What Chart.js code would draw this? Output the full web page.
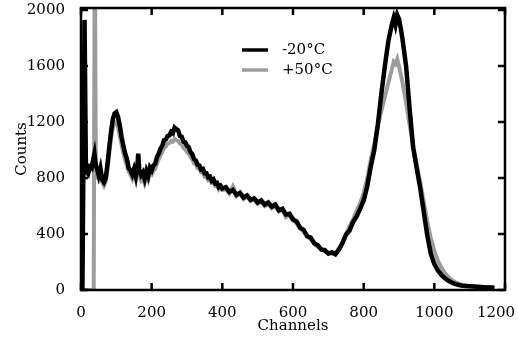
<!DOCTYPE html>
<html>
<head>
<meta charset="utf-8">
<script src="https://cdn.jsdelivr.net/npm/chart.js@4.4.1/dist/chart.umd.min.js"></script>
<style>
    html, body { margin: 0; padding: 0; background: #fff; }
    #wrap { width: 518px; height: 337px; }
</style>
</head>
<body>
<div id="wrap"><canvas id="spectrumChart" width="518" height="337"></canvas></div>
<script>
// Spectrum at -20°C (black)
const coldChannels = [0, 4, 10, 14, 20, 25, 30, 35, 38, 42, 46, 50, 55, 60, 65, 70, 75, 80, 85, 90,
    95, 100, 105, 110, 115, 120, 125, 130, 135, 140, 145, 150, 155, 160, 162, 165, 170, 175, 180, 185,
    190, 195, 200, 205, 210, 215, 220, 225, 230, 235, 240, 245, 250, 255, 260, 265, 270, 275, 280, 285,
    290, 295, 300, 305, 310, 315, 320, 325, 330, 335, 340, 345, 350, 355, 360, 365, 370, 375, 380, 385,
    390, 395, 400, 410, 420, 430, 440, 450, 460, 470, 480, 490, 500, 510, 520, 530, 540, 550, 560, 570,
    580, 590, 600, 610, 620, 630, 640, 650, 660, 670, 680, 690, 700, 710, 720, 730, 740, 750, 760, 770,
    780, 790, 800, 810, 820, 830, 840, 850, 860, 870, 880, 885, 890, 895, 900, 905, 910, 920, 930, 940,
    950, 960, 970, 980, 990, 1000, 1010, 1020, 1030, 1040, 1050, 1060, 1070, 1080, 1090, 1100, 1120, 1140, 1160, 1170];
const coldCounts = [0, 0, 1930, 850, 830, 880, 870, 940, 975, 890, 860, 820, 870, 790, 770, 800, 900, 1020, 1130, 1220,
    1260, 1270, 1235, 1170, 1090, 1030, 975, 935, 870, 855, 825, 865, 815, 900, 975, 855, 820, 840, 795, 850,
    815, 875, 855, 890, 900, 950, 975, 1010, 1030, 1070, 1075, 1100, 1105, 1130, 1120, 1160, 1150, 1140, 1100, 1095,
    1060, 1055, 1030, 1020, 985, 970, 935, 925, 895, 890, 860, 865, 835, 835, 805, 810, 780, 790, 760, 765,
    735, 745, 725, 735, 700, 715, 680, 695, 660, 675, 645, 655, 625, 640, 610, 625, 595, 610, 570, 580,
    540, 545, 505, 490, 445, 430, 385, 375, 335, 320, 290, 285, 260, 270, 255, 290, 335, 395, 425, 485,
    525, 580, 640, 740, 880, 1000, 1180, 1400, 1600, 1780, 1900, 1945, 1895, 1965, 1935, 1870, 1790, 1600, 1300, 1020,
    870, 730, 560, 390, 260, 185, 140, 108, 84, 66, 52, 42, 36, 31, 28, 26, 23, 20, 18, 16];

// Spectrum at +50°C (grey)
const hotChannels = [0, 36, 39, 42, 46, 50, 55, 60, 65, 70, 75, 80, 85, 90,
    95, 100, 105, 110, 115, 120, 125, 130, 135, 140, 145, 150, 155, 160, 165, 170, 175, 180, 185,
    190, 195, 200, 205, 210, 215, 220, 225, 230, 235, 240, 245, 250, 255, 260, 265, 270, 275, 280, 285,
    290, 295, 300, 305, 310, 315, 320, 325, 330, 335, 340, 345, 350, 355, 360, 365, 370, 375, 380, 385,
    390, 395, 400, 410, 420, 430, 440, 450, 460, 470, 480, 490, 500, 510, 520, 530, 540, 550, 560, 570,
    580, 590, 600, 610, 620, 630, 640, 650, 660, 670, 680, 690, 700, 710, 720, 730, 740, 750, 760, 770,
    780, 790, 800, 810, 820, 830, 840, 850, 860, 870, 880, 885, 890, 895, 900, 905, 910, 920, 930, 940,
    950, 960, 970, 980, 990, 1000, 1010, 1020, 1030, 1040, 1050, 1060, 1070, 1080, 1090, 1100, 1120, 1140, 1160, 1170];
const hotCounts = [0, 0, 2600, 850, 810, 790, 830, 770, 745, 775, 860, 975, 1080, 1160,
    1195, 1200, 1165, 1100, 1035, 975, 925, 890, 845, 825, 795, 830, 785, 860, 820, 785, 805, 765, 815,
    785, 835, 825, 855, 865, 905, 935, 965, 985, 1015, 1025, 1045, 1050, 1065, 1060, 1080, 1070, 1065, 1045, 1040,
    1015, 1005, 985, 975, 950, 935, 905, 900, 870, 865, 840, 840, 810, 815, 785, 790, 765, 770, 745, 750,
    720, 735, 715, 720, 690, 740, 670, 690, 650, 670, 635, 650, 615, 635, 600, 615, 585, 600, 560, 575,
    520, 535, 495, 480, 440, 420, 380, 365, 330, 310, 290, 275, 265, 260, 265, 290, 340, 400, 455, 505,
    565, 620, 690, 800, 930, 1040, 1170, 1280, 1380, 1480, 1580, 1630, 1615, 1650, 1600, 1540, 1480, 1340, 1180, 1030,
    900, 770, 630, 490, 370, 280, 210, 160, 120, 92, 70, 55, 44, 37, 32, 29, 25, 21, 19, 16];

const xTicks = [0, 200, 400, 600, 800, 1000, 1200];
const yTicks = [0, 400, 800, 1200, 1600, 2000];

document.addEventListener('DOMContentLoaded', function() {
    const font = { family: '"DejaVu Serif", serif', size: 15 };

    function toPoints(xs, ys) {
        return xs.map((x, i) => ({ x: x, y: ys[i] }));
    }

    // frame with inward ticks on all four sides, plus the legend inside the plot
    const framePlugin = {
        id: 'frame',
        beforeDraw(chart) {
            // last x label sits a bit left of its tick so it fits in the page
            const items = chart.scales.x.getLabelItems();
            const last = items[items.length - 1];
            if (last) last.options.translation[0] = Math.min(last.options.translation[0], 496);
        },
        afterDraw(chart) {
            const c = chart.ctx;
            const a = chart.chartArea;
            const xs = chart.scales.x;
            const ys = chart.scales.y;
            c.save();
            c.strokeStyle = '#000';
            c.lineWidth = 2.5;
            c.strokeRect(a.left, a.top, a.right - a.left, a.bottom - a.top);
            c.beginPath();
            xTicks.forEach(v => {
                const px = xs.getPixelForValue(v);
                c.moveTo(px, a.bottom); c.lineTo(px, a.bottom - 7);
                c.moveTo(px, a.top); c.lineTo(px, a.top + 7);
            });
            yTicks.forEach(v => {
                const py = ys.getPixelForValue(v);
                c.moveTo(a.left, py); c.lineTo(a.left + 7, py);
                c.moveTo(a.right, py); c.lineTo(a.right - 7, py);
            });
            c.stroke();

            // legend
            c.font = '15px "DejaVu Serif", serif';
            c.textBaseline = 'middle';
            c.fillStyle = '#000';
            chart.data.datasets.forEach((ds, i) => {
                const y = 50 + i * 20;
                c.strokeStyle = ds.borderColor;
                c.lineWidth = 3.5;
                c.beginPath();
                c.moveTo(242, y); c.lineTo(268, y);
                c.stroke();
                c.fillText(ds.label, 282, y);
            });
            c.restore();
        }
    };

    const ctx = document.getElementById('spectrumChart').getContext('2d');
    new Chart(ctx, {
        type: 'line',
        data: {
            datasets: [{
                label: '-20°C',
                data: toPoints(coldChannels, coldCounts),
                borderColor: '#000000',
                borderWidth: 4.5,
                pointRadius: 0,
                tension: 0
            }, {
                label: '+50°C',
                data: toPoints(hotChannels, hotCounts),
                borderColor: '#9c9c9c',
                borderWidth: 4,
                pointRadius: 0,
                tension: 0
            }]
        },
        options: {
            responsive: false,
            animation: false,
            devicePixelRatio: 1,
            layout: { padding: { top: 8, right: 13, left: 0, bottom: 0 } },
            scales: {
                x: {
                    type: 'linear',
                    min: 0,
                    max: 1200,
                    grid: { display: false },
                    border: { display: false },
                    afterBuildTicks: s => { s.ticks = xTicks.map(v => ({ value: v })); },
                    afterFit: s => { s.height = 47; s.paddingLeft = 0; s.paddingRight = 0; },
                    ticks: { font: font, color: '#000', padding: 6, maxRotation: 0, callback: v => String(v) },
                    title: { display: true, text: 'Channels', font: font, color: '#000', padding: { top: 0, bottom: 2 } }
                },
                y: {
                    min: 0,
                    max: 2015,
                    grid: { display: false },
                    border: { display: false },
                    afterBuildTicks: s => { s.ticks = yTicks.map(v => ({ value: v })); },
                    afterFit: s => { s.width = 81; s.paddingTop = 0; s.paddingBottom = 0; },
                    ticks: { font: font, color: '#000', padding: 8, callback: v => String(v) },
                    title: { display: true, text: 'Counts', font: font, color: '#000', padding: { top: 13, bottom: 0 } }
                }
            },
            plugins: {
                legend: { display: false },
                tooltip: { enabled: false }
            }
        },
        plugins: [framePlugin]
    });
});
</script>
</body>
</html>
